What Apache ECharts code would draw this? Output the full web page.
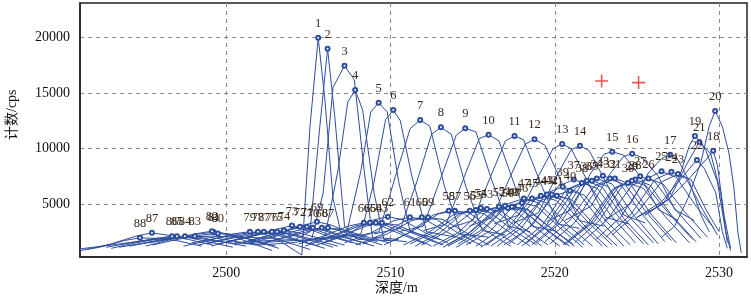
<!DOCTYPE html>
<html>
<head>
<meta charset="utf-8">
<script src="https://cdn.jsdelivr.net/npm/echarts@6/dist/echarts.min.js"></script>
<style>html,body{margin:0;padding:0;background:#fff}#c{width:751px;height:299px}</style>
</head>
<body>
<div id="c"></div>
<script>
const xTicks = [2500, 2510, 2520, 2530];
const yTicks = [5000, 10000, 15000, 20000];
const crossMarks = [[2522.85, 16100], [2525.1, 15950]];

// curves 1-22 (large peaks)
const mainCurves = [
  [[2491.1,950],[2493,1300],[2495,1700],[2497,2000],[2499,2100],[2501,2000],[2503,1900],[2504.6,400],[2505.1,12000],[2505.6,20000],[2506.0,14500],[2506.5,5500],[2507.0,2300],[2508.5,1800]],
  [[2500.5,1500],[2502.5,1700],[2504.2,1800],[2505.1,2500],[2505.7,12000],[2506.17,19000],[2506.6,13000],[2507.2,3000],[2508.0,1800],[2510,1700]],
  [[2501,1400],[2503,1600],[2505.2,1800],[2505.9,6000],[2506.5,15500],[2507.2,17475],[2507.8,16200],[2508.4,8000],[2508.9,2000],[2510.5,1800]],
  [[2502,1300],[2504,1500],[2506.0,2000],[2506.8,8000],[2507.4,14200],[2507.85,15283],[2508.3,13500],[2509.0,6000],[2509.6,1800],[2511,1600]],
  [[2505,1700],[2507.3,2200],[2508.2,8000],[2508.8,13300],[2509.28,14137],[2509.8,13300],[2510.5,7000],[2511.2,2500],[2513,1800]],
  [[2506,1800],[2508.2,2300],[2509.0,7000],[2509.7,12600],[2510.17,13479],[2510.6,12500],[2511.3,7500],[2512.2,2500],[2514,2000]],
  [[2507.5,2000],[2509.3,2500],[2510.3,7500],[2511.2,11800],[2511.81,12577],[2512.4,12000],[2513.3,6500],[2514.3,2300],[2516,2000]],
  [[2509,2300],[2510.6,2800],[2511.6,7000],[2512.5,11300],[2513.07,11918],[2513.7,11300],[2514.6,6500],[2515.6,2600],[2517,2200]],
  [[2510.5,2500],[2512.0,3000],[2513.1,7500],[2514.0,11200],[2514.55,11828],[2515.2,11500],[2516.2,7000],[2517.2,3000],[2518.5,2500]],
  [[2512,2600],[2513.4,3200],[2514.5,7500],[2515.4,10900],[2515.97,11250],[2516.6,10700],[2517.6,6500],[2518.6,3000],[2520,2600]],
  [[2513.5,2800],[2515,3500],[2516.1,7500],[2517.0,10700],[2517.55,11134],[2518.1,10800],[2519.1,7000],[2520.2,3200],[2521.5,2800]],
  [[2514.8,3000],[2516.2,3800],[2517.3,7500],[2518.2,10400],[2518.77,10836],[2519.4,10300],[2520.4,7000],[2521.5,3500],[2523,3000]],
  [[2516.3,3200],[2517.8,4000],[2519.0,7500],[2519.9,10000],[2520.45,10412],[2521.0,10000],[2522.0,7000],[2523.1,3800],[2524.5,3200]],
  [[2517.5,3300],[2519.0,4200],[2520.1,7500],[2521.0,9900],[2521.53,10259],[2522.1,9800],[2523.1,7000],[2524.2,4000],[2525.5,3300]],
  [[2519.5,3400],[2521.0,4500],[2522.2,7800],[2523.0,9500],[2523.5,9717],[2524.2,9400],[2525.2,7500],[2526.3,4500],[2527.5,3500]],
  [[2520.6,3500],[2522.2,4800],[2523.4,7800],[2524.2,9300],[2524.71,9537],[2525.3,9200],[2526.3,7500],[2527.3,4500],[2528.5,3500]],
  [[2523,3500],[2524.6,5000],[2525.7,7800],[2526.5,9100],[2527.03,9447],[2527.5,9000],[2528.2,7000],[2528.9,4000],[2529.4,2500]],
  [[2525.5,4000],[2527.0,5500],[2528.3,7500],[2529.2,9000],[2529.64,9808],[2529.9,8500],[2530.3,4000],[2530.7,1000]],
  [[2525,3800],[2526.6,5000],[2527.6,7500],[2528.2,10300],[2528.53,11134],[2528.9,10500],[2529.5,9500],[2530.1,6000],[2530.5,1500]],
  [[2526.5,2000],[2527.3,3000],[2528.1,5500],[2528.9,8800],[2529.4,12000],[2529.76,13389],[2530.2,12000],[2530.6,9600],[2530.9,6500],[2531.15,2400],[2531.35,600]],
  [[2525.5,4000],[2527,5500],[2528.0,8500],[2528.8,10600],[2529.2,9800],[2529.9,7000],[2530.4,2500],[2530.7,800]],
  [[2525,3800],[2526.5,5200],[2527.8,7500],[2528.65,8970],[2529.1,8200],[2529.8,6000],[2530.2,2500],[2530.5,1000]]
];

// curves 23-48
const rightCurves = [
  [[2523.5,2200],[2525,4200],[2526.5,7000],[2527.5,7700],[2528.3,7200],[2529.2,4500],[2530,2500]],
  [[2523.1,2000],[2524.6,4000],[2526.1,7200],[2527.1,7900],[2528,7300],[2529,4500],[2529.9,2200]],
  [[2522.5,1800],[2524,3800],[2525.5,7200],[2526.5,7950],[2527.4,7400],[2528.6,4800],[2529.7,2800]],
  [[2521.7,1600],[2523.2,3600],[2524.7,6700],[2525.7,7300],[2526.6,6800],[2527.9,4300],[2529.3,2000]],
  [[2521.2,1500],[2522.7,3500],[2524.2,6800],[2525.2,7500],[2526.1,7000],[2527.4,4400],[2528.9,1900]],
  [[2520.9,1700],[2522.4,3400],[2523.9,6600],[2524.9,7200],[2525.8,6700],[2527.1,4000],[2528.6,1600]],
  [[2520.7,1400],[2522.2,3300],[2523.7,6500],[2524.7,7100],[2525.6,6600],[2526.9,4200],[2528.4,1800]],
  [[2520.5,1300],[2522,3200],[2523.5,6300],[2524.45,6900],[2525.4,6400],[2526.7,3900],[2528.2,1500]],
  [[2519.7,1400],[2521.2,3300],[2522.7,6700],[2523.66,7300],[2524.6,6800],[2525.9,4000],[2527.4,1500]],
  [[2519.4,1600],[2520.9,3500],[2522.4,6600],[2523.35,7300],[2524.3,6700],[2525.6,4200],[2527.1,1700]],
  [[2518.9,1500],[2520.4,3400],[2521.9,6900],[2522.93,7550],[2523.9,7000],[2525.2,4300],[2526.7,1600]],
  [[2518.6,1300],[2520.1,3200],[2521.6,6700],[2522.56,7300],[2523.5,6800],[2524.8,4000],[2526.3,1400]],
  [[2518.3,1500],[2519.8,3300],[2521.3,6500],[2522.26,7100],[2523.2,6600],[2524.5,3900],[2526,1500]],
  [[2518,1200],[2519.5,3100],[2521,6400],[2521.95,7100],[2522.9,6500],[2524.2,3700],[2525.7,1300]],
  [[2517.2,1400],[2518.7,3200],[2520.2,6600],[2521.16,7200],[2522.1,6700],[2523.4,4000],[2524.9,1500]],
  [[2517.7,1300],[2519.2,3000],[2520.7,6300],[2521.65,6900],[2522.6,6400],[2523.9,3800],[2525.4,1400]],
  [[2516.5,1200],[2518,2900],[2519.5,6000],[2520.49,6550],[2521.4,6100],[2522.7,3600],[2524.2,1200]],
  [[2516.9,1300],[2518.4,2800],[2519.9,5700],[2520.92,6200],[2521.8,5800],[2523.1,3500],[2524.6,1300]],
  [[2516.1,1200],[2517.6,2700],[2519.1,5300],[2520.13,5750],[2521,5400],[2522.3,3300],[2523.8,1200]],
  [[2515.8,1300],[2517.3,2800],[2518.8,5400],[2519.82,5850],[2520.7,5500],[2522,3400],[2523.5,1300]],
  [[2515.5,1100],[2517,2600],[2518.5,5300],[2519.52,5850],[2520.4,5400],[2521.7,3200],[2523.2,1100]],
  [[2515.2,1200],[2516.7,2700],[2518.2,5200],[2519.15,5750],[2520.1,5300],[2521.4,3300],[2522.9,1200]],
  [[2514.6,1300],[2516.1,2600],[2517.6,5000],[2518.61,5500],[2519.5,5100],[2520.8,3100],[2522.3,1200]],
  [[2514,1100],[2515.5,2400],[2517,4700],[2518,5100],[2518.9,4800],[2520.2,3000],[2521.7,1100]],
  [[2514.1,1400],[2515.6,2700],[2517.1,5000],[2518.12,5500],[2519,5100],[2520.3,3200],[2521.8,1300]],
  [[2513.5,1200],[2515,2400],[2516.5,4400],[2517.51,4750],[2518.4,4500],[2519.7,2900],[2521.2,1200]]
];

// curves 49-66
const middleCurves = [
  [[2513.4,1300],[2514.9,2500],[2516.4,4400],[2517.39,4750],[2518.3,4500],[2519.6,3000],[2521.1,1400]],
  [[2513.2,1100],[2514.7,2300],[2516.2,4300],[2517.15,4650],[2518.1,4400],[2519.4,2800],[2520.9,1200]],
  [[2513,1300],[2514.5,2500],[2516,4500],[2516.97,4850],[2517.9,4600],[2519.2,3000],[2520.7,1300]],
  [[2512.6,1200],[2514.1,2400],[2515.6,4400],[2516.6,4750],[2517.5,4500],[2518.8,2900],[2520.3,1200]],
  [[2511.9,1300],[2513.4,2500],[2514.9,4200],[2515.87,4550],[2516.8,4300],[2518.1,2800],[2519.6,1300]],
  [[2511.5,1200],[2513,2400],[2514.5,4300],[2515.5,4650],[2516.4,4400],[2517.7,2900],[2519.2,1200]],
  [[2511.2,1400],[2512.7,2500],[2514.2,4100],[2515.2,4450],[2516.1,4200],[2517.4,2700],[2518.9,1300]],
  [[2510.8,1300],[2512.3,2400],[2513.8,4000],[2514.83,4400],[2515.7,4100],[2517,2700],[2518.5,1200]],
  [[2509.9,1500],[2511.4,2600],[2512.9,4100],[2513.92,4400],[2514.8,4200],[2516.1,2800],[2517.6,1400]],
  [[2509.6,1300],[2511.1,2400],[2512.6,4000],[2513.55,4400],[2514.5,4100],[2515.8,2600],[2517.3,1200]],
  [[2508.3,1400],[2509.8,2300],[2511.3,3500],[2512.28,3800],[2513.2,3600],[2514.5,2500],[2516,1300]],
  [[2507.9,1300],[2509.4,2200],[2510.9,3500],[2511.91,3800],[2512.8,3600],[2514.1,2400],[2515.6,1200]],
  [[2507.2,1500],[2508.7,2300],[2510.2,3500],[2511.18,3800],[2512.1,3600],[2513.4,2500],[2514.9,1400]],
  [[2505.8,1400],[2507.3,2200],[2508.8,3500],[2509.84,3850],[2510.7,3600],[2512,2500],[2513.5,1500]],
  [[2505.5,1300],[2507,2100],[2508.5,3000],[2509.48,3300],[2510.4,3100],[2511.7,2300],[2513.2,1300]],
  [[2505.1,1500],[2506.6,2200],[2508.1,3000],[2509.11,3300],[2510,3100],[2511.3,2400],[2512.8,1500]],
  [[2504.8,1200],[2506.3,2000],[2507.8,3000],[2508.75,3300],[2509.7,3100],[2511,2200],[2512.5,1200]],
  [[2504.4,1400],[2505.9,2100],[2507.4,3000],[2508.38,3300],[2509.3,3100],[2510.6,2300],[2512.1,1400]]
];

// curves 67-88
const leftCurves = [
  [[2502.2,1500],[2503.7,2000],[2505.2,2600],[2506.19,2850],[2507.1,2700],[2508.4,2100],[2509.9,1500]],
  [[2501.8,1300],[2503.3,1900],[2504.8,2600],[2505.82,2850],[2506.7,2700],[2508,2000],[2509.5,1300]],
  [[2501.5,1600],[2503,2200],[2504.5,3000],[2505.52,3400],[2506.4,3100],[2507.7,2300],[2509.2,1600]],
  [[2501.3,1400],[2502.8,2000],[2504.3,2600],[2505.28,2850],[2506.2,2600],[2507.5,1900],[2509,1200]],
  [[2500.9,1500],[2502.4,2100],[2503.9,2700],[2504.91,2950],[2505.8,2700],[2507.1,2000],[2508.6,1400]],
  [[2500.5,1300],[2502,1900],[2503.5,2600],[2504.49,2950],[2505.4,2700],[2506.7,2000],[2508.2,1300]],
  [[2500,1500],[2501.5,2100],[2503,2700],[2504,3050],[2504.9,2800],[2506.2,2100],[2507.7,1500]],
  [[2499.5,1400],[2501,1900],[2502.5,2400],[2503.51,2600],[2504.4,2400],[2505.7,1900],[2507.2,1300]],
  [[2499.1,1200],[2500.6,1800],[2502.1,2300],[2503.09,2500],[2504,2300],[2505.3,1800],[2506.8,1200]],
  [[2498.8,1400],[2500.3,1900],[2501.8,2300],[2502.78,2500],[2503.7,2300],[2505,1800],[2506.5,1100]],
  [[2498.3,1300],[2499.8,1800],[2501.3,2300],[2502.29,2500],[2503.2,2300],[2504.5,1700],[2506,1000]],
  [[2497.9,1500],[2499.4,1900],[2500.9,2300],[2501.93,2500],[2502.8,2300],[2504.1,1800],[2505.6,1200]],
  [[2497.4,1200],[2498.9,1700],[2500.4,2300],[2501.44,2500],[2502.3,2300],[2503.6,1600],[2505.1,900]],
  [[2495.5,1300],[2497,1800],[2498.5,2200],[2499.49,2350],[2500.4,2200],[2501.7,1700],[2503.2,1000]],
  [[2495.3,1500],[2496.8,1900],[2498.3,2300],[2499.25,2450],[2500.2,2300],[2501.5,1800],[2503,1200]],
  [[2495.1,1200],[2496.6,1800],[2498.1,2300],[2499.13,2550],[2500,2300],[2501.3,1600],[2502.8,800]],
  [[2494.1,1200],[2495.6,1600],[2497.1,2000],[2498.09,2100],[2499,2000],[2500.3,1700],[2501.8,1300]],
  [[2493.5,1100],[2495,1500],[2496.5,1900],[2497.49,2100],[2498.4,2000],[2499.7,1600],[2501.2,1200]],
  [[2493,1000],[2494.5,1500],[2496,1900],[2497,2100],[2497.9,2000],[2499.2,1700],[2500.7,1400]],
  [[2492.7,1100],[2494.2,1500],[2495.7,1900],[2496.7,2100],[2497.6,2000],[2498.9,1600],[2500.4,1100]],
  [[2491.5,900],[2493,1400],[2494.5,2100],[2495.48,2400],[2496.4,2200],[2497.7,1800],[2499.2,1300]],
  [[2491.1,800],[2492.3,1100],[2493.8,1700],[2494.75,1950],[2495.7,1900],[2497,1700],[2498.5,1200]]
];

const allCurves = mainCurves.concat(rightCurves, middleCurves, leftCurves);
const serifFont = '"Liberation Serif", "Noto Sans CJK SC", serif';
const lineColor = '#2d4d9e';

const series = allCurves.map(function (pts, i) {
  let mi = 0;
  pts.forEach(function (p, j) { if (p[1] > pts[mi][1]) mi = j; });
  return {
    type: 'line',
    data: pts.map(function (p, j) {
      if (j !== mi) return p;
      return {
        value: p,
        symbol: 'emptyCircle',
        symbolSize: 4,
        label: {
          show: true,
          formatter: String(i + 1),
          position: 'top',
          distance: 5,
          fontFamily: serifFont,
          fontSize: 12.5,
          color: '#3a2a1c'
        }
      };
    }),
    symbol: 'none',
    showSymbol: true,
    lineStyle: { color: lineColor, width: 1 },
    itemStyle: { color: lineColor, borderWidth: 0.8 },
    emphasis: { disabled: true },
    animation: false,
    z: 2
  };
});

series.push({
  type: 'scatter',
  data: crossMarks,
  symbol: 'path://M4.4,0h1.2v10h-1.2z M0,4.4h10v1.2h-10z',
  symbolSize: 13,
  itemStyle: { color: '#e42a22' },
  animation: false,
  z: 5
});

const chart = echarts.init(document.getElementById('c'), null, { renderer: 'canvas' });
chart.setOption({
  backgroundColor: '#fff',
  animation: false,
  grid: { left: 80, right: 4, top: 3, bottom: 42, show: true, borderColor: '#222', borderWidth: 1.5, backgroundColor: 'transparent' },
  xAxis: {
    type: 'value',
    min: 2491.1,
    max: 2531.7,
    axisLine: { show: true, lineStyle: { color: '#222', width: 1.5 } },
    axisTick: { show: false, customValues: xTicks },
    axisLabel: { customValues: xTicks, margin: 9, fontFamily: serifFont, fontSize: 14, color: '#111', formatter: function (v) { return String(v); } },
    splitLine: { show: true, lineStyle: { color: '#8a8a8a', type: [4, 4], width: 1 } }
  },
  yAxis: {
    type: 'value',
    min: 220,
    max: 23130,
    axisLine: { show: true, lineStyle: { color: '#222', width: 1.5 } },
    axisTick: { show: false, customValues: yTicks },
    axisLabel: { customValues: yTicks, margin: 10, fontFamily: serifFont, fontSize: 14, color: '#111', formatter: function (v) { return String(v); } },
    splitLine: { show: true, lineStyle: { color: '#8a8a8a', type: [4, 4], width: 1 } }
  },
  graphic: [
    { type: 'text', left: 375, top: 281, style: { text: '深度/m', font: '14px ' + serifFont, fill: '#111' } },
    { type: 'text', x: 5, y: 140, rotation: Math.PI / 2, style: { text: '计数/cps', font: '14px ' + serifFont, fill: '#111' } }
  ],
  series: series
});
</script>
</body>
</html>
